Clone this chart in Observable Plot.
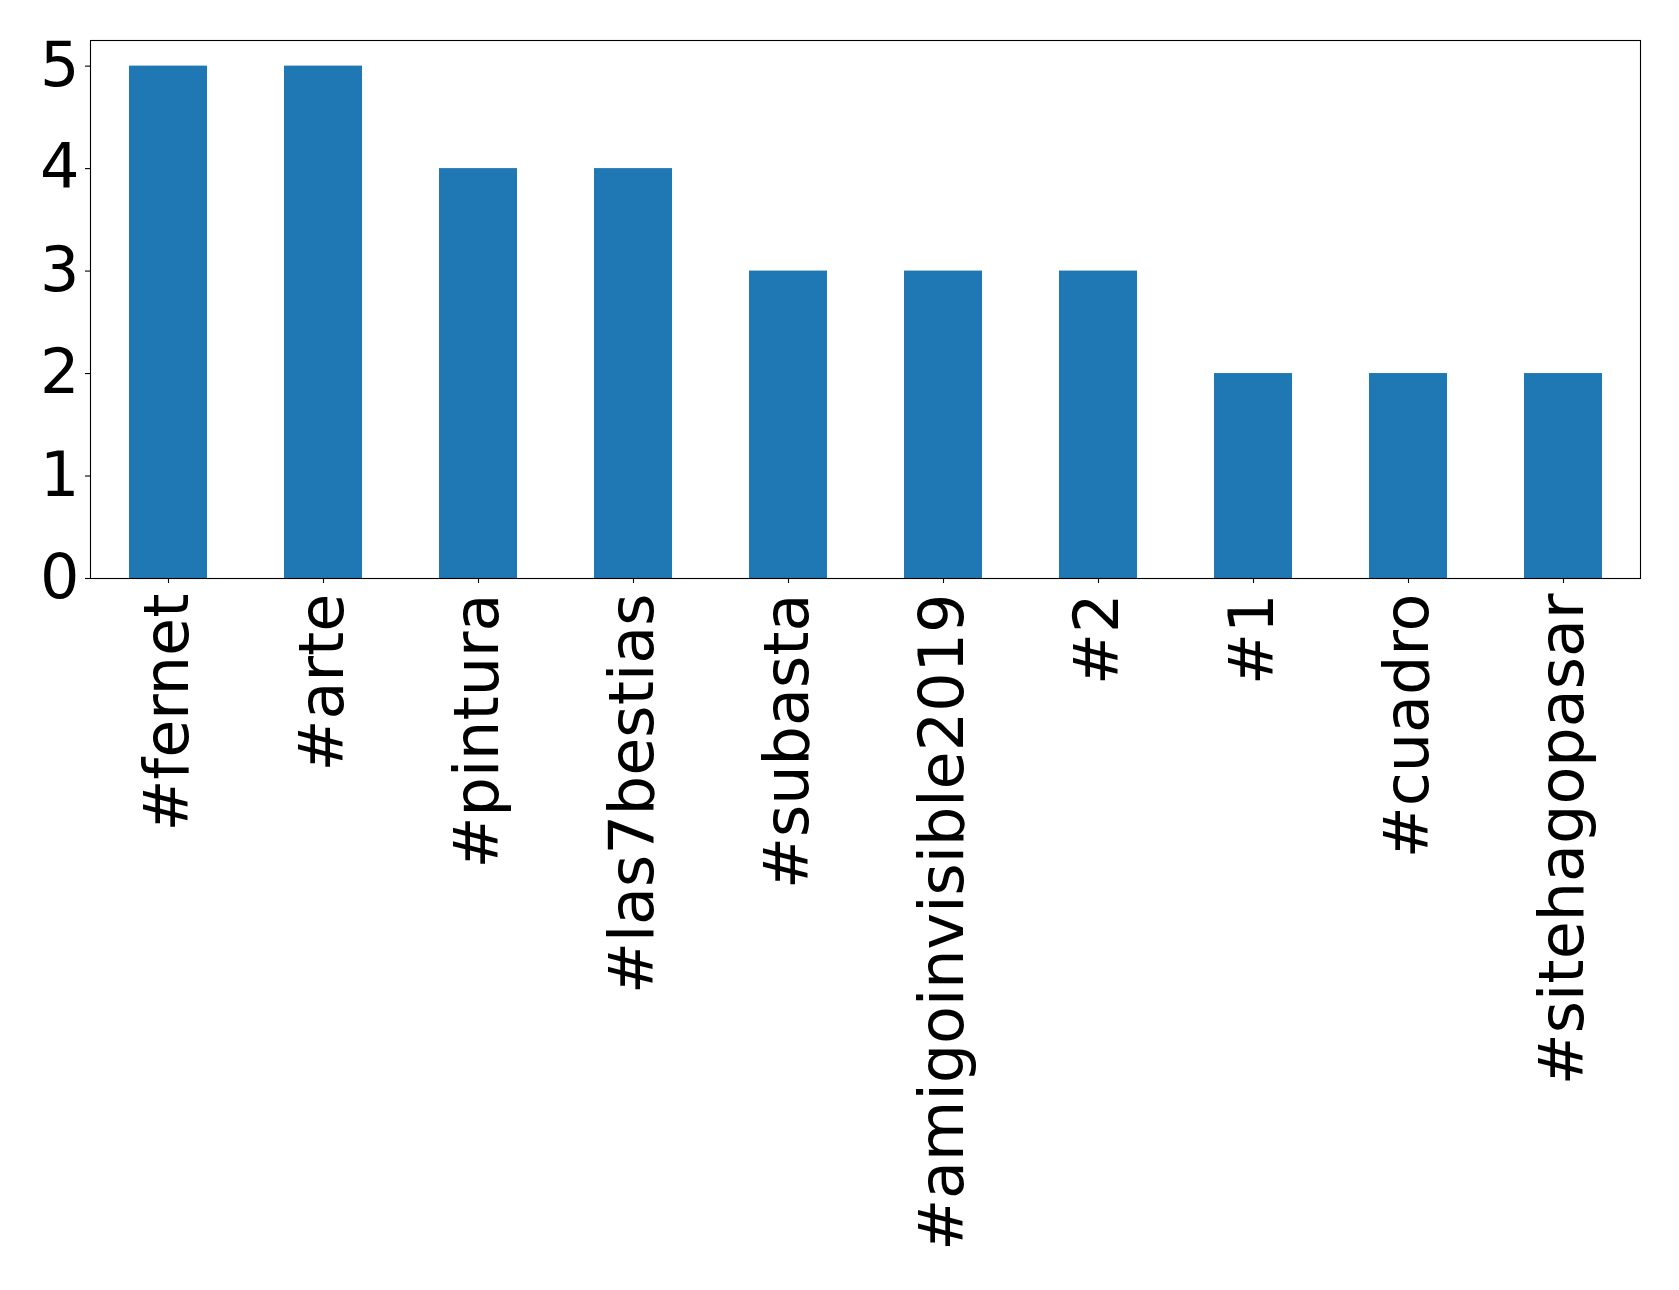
<!DOCTYPE html>
<html>
<head>
<meta charset="utf-8">
<script src="https://cdn.jsdelivr.net/npm/d3@7"></script>
<script src="https://cdn.jsdelivr.net/npm/@observablehq/plot@0.6"></script>
<style>
  html, body { margin: 0; padding: 0; background: #fff; }
</style>
</head>
<body>
<div id="chart"></div>
<script>
const tags = ["#fernet", "#arte", "#pintura", "#las7bestias", "#subasta", "#amigoinvisible2019", "#2", "#1", "#cuadro", "#sitehagopasar"];
const counts = [5, 5, 4, 4, 3, 3, 3, 2, 2, 2];
const yTicks = [0, 1, 2, 3, 4, 5];

const data = tags.map((t, i) => ({tag: t, count: counts[i]}));

const chart = Plot.plot({
  width: 1679,
  height: 1290,
  marginLeft: 90,
  marginRight: 39,
  marginTop: 40,
  marginBottom: 712,
  style: {fontFamily: "DejaVu Sans", background: "#fff", color: "#000"},
  x: {domain: tags, paddingInner: 0.5, paddingOuter: 0.25, label: null},
  y: {domain: [0, 5.25], label: null},
  marks: [
    Plot.barY(data, {x: "tag", y: "count", fill: "#1f77b4"}),
    Plot.axisY({ticks: yTicks, tickFormat: "d", fontSize: 62, tickSize: 5, tickPadding: 6, label: null, stroke: "#000", strokeWidth: 1.1}),
    Plot.axisX({tickRotate: -90, fontSize: 62, tickSize: 5, tickPadding: 10, label: null, stroke: "#000", strokeWidth: 1.1}),
    Plot.frame({stroke: "#000", strokeWidth: 1.1})
  ]
});
document.getElementById("chart").appendChild(chart);
</script>
</body>
</html>
